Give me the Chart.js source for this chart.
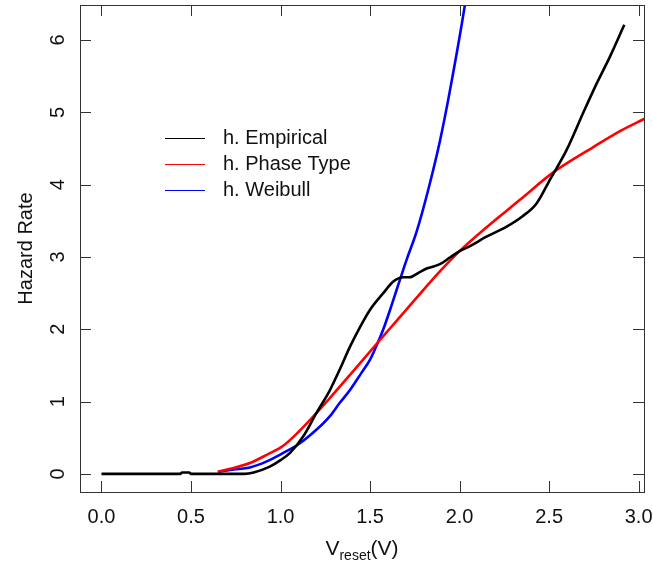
<!DOCTYPE html>
<html>
<head>
<meta charset="utf-8">
<script src="https://cdn.jsdelivr.net/npm/chart.js@4.4.1/dist/chart.umd.min.js"></script>
<style>
  html, body { margin: 0; padding: 0; background: #fff; }
</style>
</head>
<body>
<canvas id="hazardChart" width="653" height="564"></canvas>
<script>
// データ
const empiricalX = [0, 0.44, 0.45, 0.49, 0.5, 0.8, 0.85, 0.94, 1.0, 1.053, 1.127, 1.2, 1.276, 1.332, 1.388, 1.444, 1.5, 1.574, 1.63, 1.685, 1.72, 1.77, 1.816, 1.89, 1.95, 2.0, 2.058, 2.15, 2.263, 2.35, 2.43, 2.505, 2.598, 2.69, 2.766, 2.84, 2.92];
const empiricalY = [0, 0, 0.02, 0.02, 0, 0, 0.02, 0.1, 0.19, 0.29, 0.52, 0.84, 1.16, 1.45, 1.76, 2.03, 2.27, 2.5, 2.66, 2.72, 2.72, 2.78, 2.84, 2.9, 3.0, 3.08, 3.15, 3.28, 3.42, 3.56, 3.74, 4.07, 4.48, 4.99, 5.4, 5.77, 6.21];

const phaseX = [0.65, 0.72, 0.829, 0.92, 1.015, 1.1, 1.2, 1.276, 1.388, 1.537, 1.6, 1.723, 1.779, 1.89, 2.0, 2.151, 2.263, 2.337, 2.523, 2.747, 2.896, 3.04];
const phaseY = [0.03, 0.07, 0.15, 0.26, 0.39, 0.58, 0.84, 1.05, 1.37, 1.8, 1.98, 2.33, 2.49, 2.8, 3.08, 3.41, 3.64, 3.79, 4.17, 4.52, 4.74, 4.92];

const weibullX = [0.65, 0.74, 0.829, 0.92, 1.015, 1.1, 1.2, 1.276, 1.33, 1.388, 1.45, 1.5, 1.537, 1.574, 1.62, 1.649, 1.704, 1.76, 1.825, 1.89, 1.946, 2.03, 2.1];
const weibullY = [0.03, 0.06, 0.09, 0.17, 0.29, 0.41, 0.61, 0.8, 0.98, 1.16, 1.39, 1.58, 1.78, 2.0, 2.33, 2.55, 2.96, 3.35, 3.93, 4.6, 5.3, 6.49, 7.7];

const seriesLabels = ['h. Empirical', 'h. Phase Type', 'h. Weibull'];
const seriesColors = ['#000000', '#ff0000', '#0000ff'];

const xTicks = [0, 0.5, 1, 1.5, 2, 2.5, 3];
const yTicks = [0, 1, 2, 3, 4, 5, 6];

const FONT = '"Liberation Sans", Arial, sans-serif';

function toPoints(xs, ys) {
  return xs.map((x, i) => ({ x: x, y: ys[i] }));
}

// 枠・目盛り・ラベル・凡例を描く
const framePlugin = {
  id: 'frame',
  afterDraw(chart) {
    const ctx = chart.ctx;
    const area = chart.chartArea;
    const xs = chart.scales.x;
    const ys = chart.scales.y;
    const tick = 11;

    ctx.save();
    ctx.strokeStyle = '#333';
    ctx.lineWidth = 1;
    ctx.strokeRect(area.left + 0.5, area.top + 0.5, area.right - area.left, area.bottom - area.top);

    ctx.beginPath();
    xTicks.forEach(v => {
      const px = Math.round(xs.getPixelForValue(v)) + 0.5;
      ctx.moveTo(px, area.bottom);
      ctx.lineTo(px, area.bottom - tick);
      ctx.moveTo(px, area.top);
      ctx.lineTo(px, area.top + tick);
    });
    yTicks.forEach(v => {
      const py = Math.round(ys.getPixelForValue(v)) + 0.5;
      ctx.moveTo(area.left, py);
      ctx.lineTo(area.left + tick, py);
      ctx.moveTo(area.right, py);
      ctx.lineTo(area.right - tick, py);
    });
    ctx.stroke();

    ctx.fillStyle = '#111';
    ctx.font = '20px ' + FONT;
    ctx.textAlign = 'center';
    ctx.textBaseline = 'middle';
    xTicks.forEach(v => {
      ctx.fillText(v.toFixed(1), xs.getPixelForValue(v), 517);
    });
    yTicks.forEach(v => {
      ctx.save();
      ctx.translate(58, ys.getPixelForValue(v));
      ctx.rotate(-Math.PI / 2);
      ctx.fillText(String(v), 0, 0);
      ctx.restore();
    });

    // y軸タイトル
    ctx.save();
    ctx.translate(26, (area.top + area.bottom) / 2);
    ctx.rotate(-Math.PI / 2);
    ctx.fillText('Hazard Rate', 0, 0);
    ctx.restore();

    // x軸タイトル V_reset(V)
    const cx = (area.left + area.right) / 2;
    ctx.textAlign = 'left';
    ctx.textBaseline = 'alphabetic';
    ctx.font = '21px ' + FONT;
    const wV = ctx.measureText('V').width;
    const wP = ctx.measureText('(V)').width;
    ctx.font = '14px ' + FONT;
    const wSub = ctx.measureText('reset').width;
    let x0 = cx - (wV + wSub + wP) / 2;
    ctx.font = '21px ' + FONT;
    ctx.fillText('V', x0, 555);
    ctx.font = '14px ' + FONT;
    ctx.fillText('reset', x0 + wV, 560);
    ctx.font = '21px ' + FONT;
    ctx.fillText('(V)', x0 + wV + wSub, 555);

    // 凡例
    ctx.font = '20px ' + FONT;
    ctx.textBaseline = 'middle';
    seriesLabels.forEach((label, i) => {
      const y = 138 + i * 26;
      ctx.strokeStyle = seriesColors[i];
      ctx.beginPath();
      ctx.moveTo(165, y + 0.5);
      ctx.lineTo(205, y + 0.5);
      ctx.stroke();
      ctx.fillStyle = '#111';
      ctx.fillText(label, 223, y);
    });
    ctx.restore();
  }
};

const ctx = document.getElementById('hazardChart').getContext('2d');
const hazardChart = new Chart(ctx, {
  type: 'line',
  data: {
    datasets: [
      { label: seriesLabels[0], data: toPoints(empiricalX, empiricalY), borderColor: seriesColors[0] },
      { label: seriesLabels[1], data: toPoints(phaseX, phaseY), borderColor: seriesColors[1] },
      { label: seriesLabels[2], data: toPoints(weibullX, weibullY), borderColor: seriesColors[2] }
    ]
  },
  options: {
    responsive: false,
    animation: false,
    devicePixelRatio: 1,
    layout: { padding: { left: 80, right: 9, top: 5, bottom: 72 } },
    elements: {
      point: { radius: 0 },
      line: { borderWidth: 2.6, cubicInterpolationMode: 'monotone', fill: false }
    },
    scales: {
      x: { type: 'linear', min: -0.12, max: 3.03, display: false },
      y: { type: 'linear', min: -0.25, max: 6.484, display: false }
    },
    plugins: {
      legend: { display: false },
      tooltip: { enabled: false }
    }
  },
  plugins: [framePlugin]
});
</script>
</body>
</html>
